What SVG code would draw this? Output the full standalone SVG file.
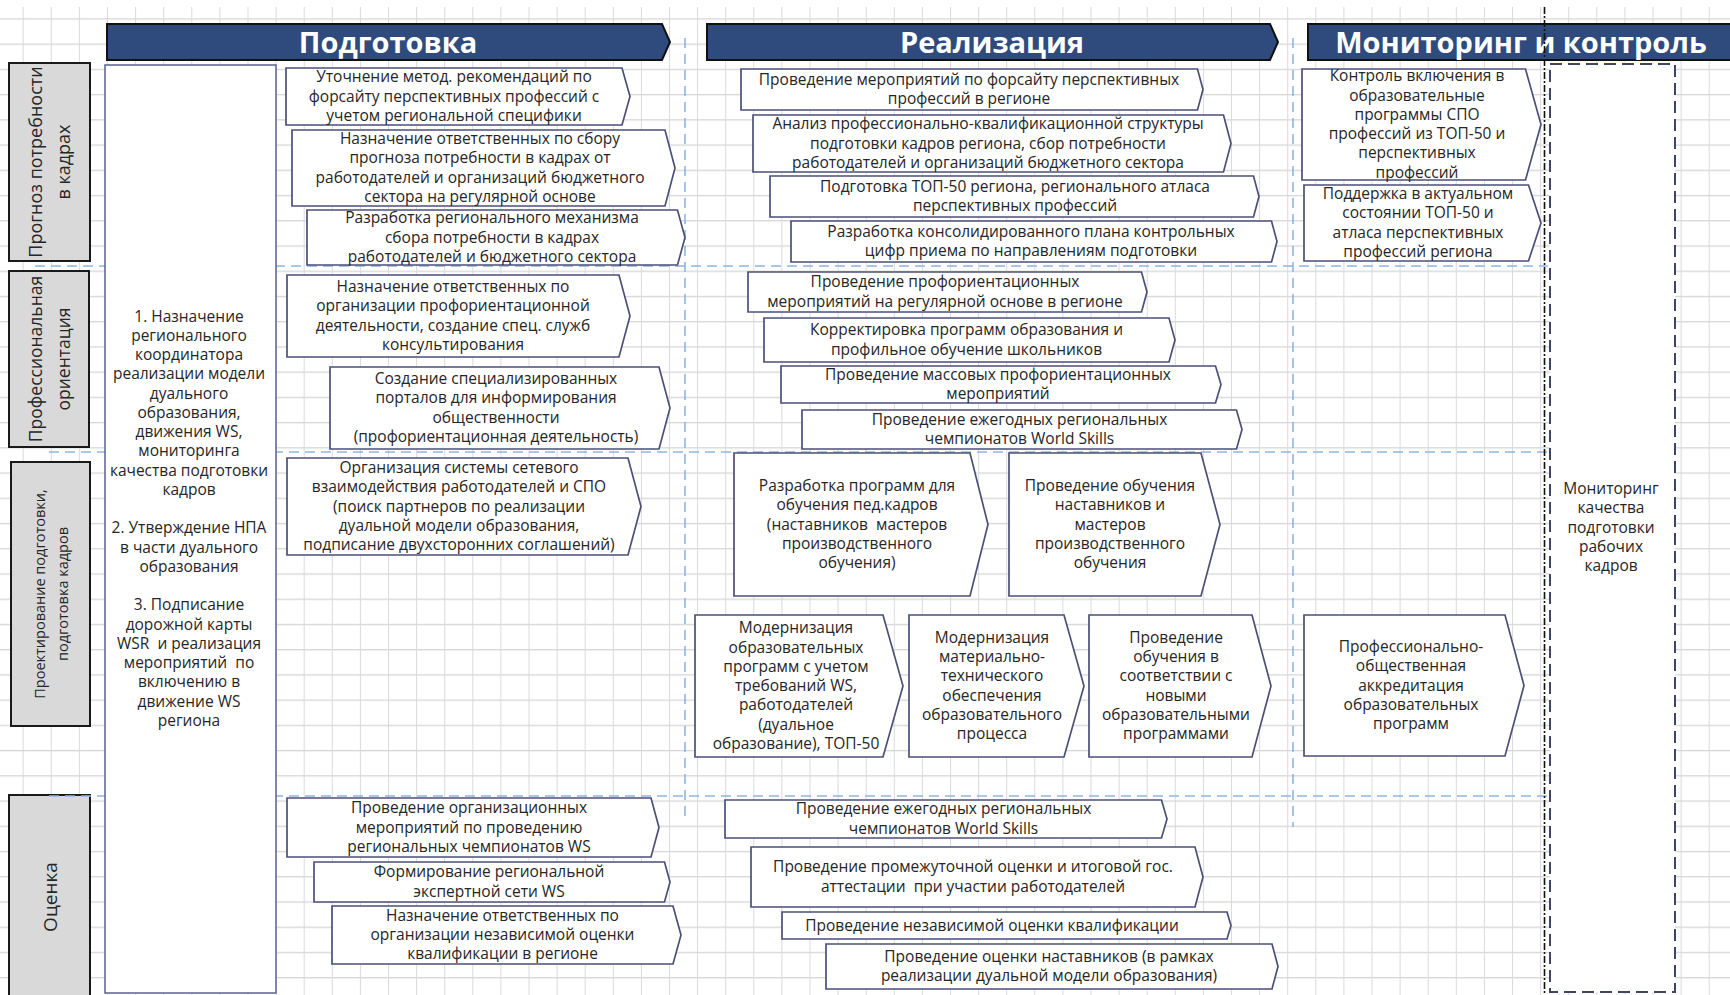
<svg xmlns="http://www.w3.org/2000/svg" width="1730" height="995" viewBox="0 0 1730 995">
<style>
.t{font-family:"Open Sans","Noto Sans","Liberation Sans",sans-serif;font-size:15.5px;fill:#262626;text-anchor:middle}
.pent{fill:#fff;stroke:#4b5078;stroke-width:1.7}
.lab{fill:#d9d9d9;stroke:#1a1a1a;stroke-width:2}
.lt{font-family:"Open Sans","Noto Sans","Liberation Sans",sans-serif;fill:#262626;text-anchor:middle}
.hdr{fill:#2f4b7e;stroke:#111;stroke-width:2}
.ht{font-family:"Open Sans","Noto Sans","Liberation Sans",sans-serif;font-weight:bold;font-size:29px;fill:#fff;text-anchor:middle}
.guide{stroke:#8eb4e3;stroke-width:1.6;stroke-dasharray:10 6;fill:none}
</style>
<defs>
<pattern id="grid" x="22.7" y="18.3" width="28.1" height="25.23" patternUnits="userSpaceOnUse">
<path d="M0 0.6H28.1" stroke="#d6d6d6" stroke-width="1.4" fill="none"/>
<path d="M0.5 0V25.23" stroke="#dadada" stroke-width="1" fill="none"/>
</pattern>
</defs>
<rect width="1730" height="995" fill="#fff"/>
<rect x="0" y="7" width="1730" height="988" fill="url(#grid)"/>

<g id="headers">
<g id="hdr-podgotovka"><path class="hdr" d="M107 24H662L670 42L662 60H107Z"/><text class="ht" x="388" y="52.5">Подготовка</text></g>
<g id="hdr-realizaciya"><path class="hdr" d="M707 24H1270L1278 42L1270 60H707Z"/><text class="ht" x="992" y="52.5">Реализация</text></g>
<g id="hdr-monitoring"><path class="hdr" d="M1308 24H1745V60H1308Z"/><text class="ht" x="1521" y="52.5">Мониторинг и контроль</text></g>
</g>

<g id="row-labels">
<g id="lab-prognoz"><rect class="lab" x="9" y="63" width="81" height="198"/><text class="lt" font-size="18" transform="translate(49.5,162) rotate(-90)"><tspan x="0" y="-7.2">Прогноз потребности</tspan><tspan x="0" y="20.8">в кадрах</tspan></text></g>
<g id="lab-proforient"><rect class="lab" x="9" y="271" width="80" height="176"/><text class="lt" font-size="17.5" transform="translate(49,359) rotate(-90)"><tspan x="0" y="-6.8">Профессиональная</tspan><tspan x="0" y="21.2">ориентация</tspan></text></g>
<g id="lab-proektirovanie"><rect class="lab" x="11" y="462" width="79" height="264"/><text class="lt" font-size="14.5" transform="translate(50.5,594) rotate(-90)"><tspan x="0" y="-5.5">Проектирование подготовки,</tspan><tspan x="0" y="17.5">подготовка кадров</tspan></text></g>
<g id="lab-ocenka"><rect class="lab" x="9" y="795" width="81" height="210"/><text class="lt" font-size="19" transform="translate(49.5,897) rotate(-90)"><tspan x="0" y="7">Оценка</tspan></text></g>
</g>

<g id="connectors">
<path class="guide" d="M35 266H1548"/>
<path class="guide" d="M49 452H1548"/>
<path class="guide" d="M49 796H1548"/>
<path class="guide" d="M685 38V822"/>
<path class="guide" d="M1293 38V827"/>
<path d="M1544.5 7V995" stroke="#111" stroke-width="1.6" stroke-dasharray="7 2 2 2" fill="none"/>
</g>

<g id="left-box">
<rect x="105" y="65" width="171" height="928" fill="#fff" stroke="#5b6190" stroke-width="1.5"/>
<text class="t" x="189" y="321.7" xml:space="preserve"><tspan x="189">1. Назначение</tspan><tspan x="189" dy="19.25">регионального</tspan><tspan x="189" dy="19.25">координатора</tspan><tspan x="189" dy="19.25">реализации модели</tspan><tspan x="189" dy="19.25">дуального</tspan><tspan x="189" dy="19.25">образования,</tspan><tspan x="189" dy="19.25">движения WS,</tspan><tspan x="189" dy="19.25">мониторинга</tspan><tspan x="189" dy="19.25">качества подготовки</tspan><tspan x="189" dy="19.25">кадров</tspan><tspan x="189" dy="38.5">2. Утверждение НПА</tspan><tspan x="189" dy="19.25">в части дуального</tspan><tspan x="189" dy="19.25">образования</tspan><tspan x="189" dy="38.5">3. Подписание</tspan><tspan x="189" dy="19.25">дорожной карты</tspan><tspan x="189" dy="19.25">WSR  и реализация</tspan><tspan x="189" dy="19.25">мероприятий  по</tspan><tspan x="189" dy="19.25">включению в</tspan><tspan x="189" dy="19.25">движение WS</tspan><tspan x="189" dy="19.25">региона</tspan></text>
</g>

<g id="n1"><path class="pent" d="M286 68H622L630 96.5L622 125H286Z"/><text class="t" x="454" y="82.25"><tspan x="454">Уточнение метод. рекомендаций по</tspan><tspan x="454" dy="19.25">форсайту перспективных профессий с</tspan><tspan x="454" dy="19.25">учетом региональной специфики</tspan></text></g>
<g id="n2"><path class="pent" d="M292 130H665L675 168L665 206H292Z"/><text class="t" x="480" y="144.1"><tspan x="480">Назначение ответственных по сбору</tspan><tspan x="480" dy="19.25">прогноза потребности в кадрах от</tspan><tspan x="480" dy="19.25">работодателей и организаций бюджетного</tspan><tspan x="480" dy="19.25">сектора на регулярной основе</tspan></text></g>
<g id="n3"><path class="pent" d="M307 210H677.5L685 237.5L677.5 265H307Z"/><text class="t" x="492" y="223.25"><tspan x="492">Разработка регионального механизма</tspan><tspan x="492" dy="19.25">сбора потребности в кадрах</tspan><tspan x="492" dy="19.25">работодателей и бюджетного сектора</tspan></text></g>
<g id="n4"><path class="pent" d="M287 275H619L630 316L619 357H287Z"/><text class="t" x="453" y="292.1"><tspan x="453">Назначение ответственных по</tspan><tspan x="453" dy="19.25">организации профориентационной</tspan><tspan x="453" dy="19.25">деятельности, создание спец. служб</tspan><tspan x="453" dy="19.25">консультирования</tspan></text></g>
<g id="n5"><path class="pent" d="M330 367H659L670 408L659 449H330Z"/><text class="t" x="496" y="384.1"><tspan x="496">Создание специализированных</tspan><tspan x="496" dy="19.25">порталов для информирования</tspan><tspan x="496" dy="19.25">общественности</tspan><tspan x="496" dy="19.25">(профориентационная деятельность)</tspan></text></g>
<g id="n6"><path class="pent" d="M287 458H628L641 506.5L628 555H287Z"/><text class="t" x="459" y="473"><tspan x="459">Организация системы сетевого</tspan><tspan x="459" dy="19.25">взаимодействия работодателей и СПО</tspan><tspan x="459" dy="19.25">(поиск партнеров по реализации</tspan><tspan x="459" dy="19.25">дуальной модели образования,</tspan><tspan x="459" dy="19.25">подписание двухсторонних соглашений)</tspan></text></g>
<g id="n7"><path class="pent" d="M287 798H651L659 827.5L651 857H287Z"/><text class="t" x="469" y="813.25"><tspan x="469">Проведение организационных</tspan><tspan x="469" dy="19.25">мероприятий по проведению</tspan><tspan x="469" dy="19.25">региональных чемпионатов WS</tspan></text></g>
<g id="n8"><path class="pent" d="M314 862H664.5L670 882L664.5 902H314Z"/><text class="t" x="489" y="877.4"><tspan x="489">Формирование региональной</tspan><tspan x="489" dy="19.25">экспертной сети WS</tspan></text></g>
<g id="n9"><path class="pent" d="M332 906H673L681 935L673 964H332Z"/><text class="t" x="502.5" y="920.75"><tspan x="502.5">Назначение ответственных по</tspan><tspan x="502.5" dy="19.25">организации независимой оценки</tspan><tspan x="502.5" dy="19.25">квалификации в регионе</tspan></text></g>

<g id="n10"><path class="pent" d="M741 69H1197.5L1203 89.5L1197.5 110H741Z"/><text class="t" x="969" y="84.9"><tspan x="969">Проведение мероприятий по форсайту перспективных</tspan><tspan x="969" dy="19.25">профессий в регионе</tspan></text></g>
<g id="n11"><path class="pent" d="M753 115H1223.5L1231 143.5L1223.5 172H753Z"/><text class="t" x="988" y="129.25"><tspan x="988">Анализ профессионально-квалификационной структуры</tspan><tspan x="988" dy="19.25">подготовки кадров региона, сбор потребности</tspan><tspan x="988" dy="19.25">работодателей и организаций бюджетного сектора</tspan></text></g>
<g id="n12"><path class="pent" d="M770 176H1253.5L1259 196.5L1253.5 217H770Z"/><text class="t" x="1015" y="191.9"><tspan x="1015">Подготовка ТОП-50 региона, регионального атласа</tspan><tspan x="1015" dy="19.25">перспективных профессий</tspan></text></g>
<g id="n13"><path class="pent" d="M791 221H1271.5L1277 241.5L1271.5 262H791Z"/><text class="t" x="1031" y="236.9"><tspan x="1031">Разработка консолидированного плана контрольных</tspan><tspan x="1031" dy="19.25">цифр приема по направлениям подготовки</tspan></text></g>
<g id="n14"><path class="pent" d="M748 272H1141.5L1147 292L1141.5 312H748Z"/><text class="t" x="945" y="287.4"><tspan x="945">Проведение профориентационных</tspan><tspan x="945" dy="19.25">мероприятий на регулярной основе в регионе</tspan></text></g>
<g id="n15"><path class="pent" d="M764 318H1169L1175 340L1169 362H764Z"/><text class="t" x="966.5" y="335.4"><tspan x="966.5">Корректировка программ образования и</tspan><tspan x="966.5" dy="19.25">профильное обучение школьников</tspan></text></g>
<g id="n16"><path class="pent" d="M781 366H1215.5L1221 384.5L1215.5 403H781Z"/><text class="t" x="998" y="379.9"><tspan x="998">Проведение массовых профориентационных</tspan><tspan x="998" dy="19.25">мероприятий</tspan></text></g>
<g id="n17"><path class="pent" d="M802 410H1236.5L1242 429.5L1236.5 449H802Z"/><text class="t" x="1019.5" y="424.9"><tspan x="1019.5">Проведение ежегодных региональных</tspan><tspan x="1019.5" dy="19.25">чемпионатов World Skills</tspan></text></g>
<g id="n18"><path class="pent" d="M734 453H970L988 524.5L970 596H734Z"/><text class="t" x="857" y="491" xml:space="preserve"><tspan x="857">Разработка программ для</tspan><tspan x="857" dy="19.25">обучения пед.кадров</tspan><tspan x="857" dy="19.25">(наставников  мастеров</tspan><tspan x="857" dy="19.25">производственного</tspan><tspan x="857" dy="19.25">обучения)</tspan></text></g>
<g id="n19"><path class="pent" d="M1009 453H1201L1220 524.5L1201 596H1009Z"/><text class="t" x="1110" y="491"><tspan x="1110">Проведение обучения</tspan><tspan x="1110" dy="19.25">наставников и</tspan><tspan x="1110" dy="19.25">мастеров</tspan><tspan x="1110" dy="19.25">производственного</tspan><tspan x="1110" dy="19.25">обучения</tspan></text></g>
<g id="n20"><path class="pent" d="M695 615H883L903 686L883 757H695Z"/><text class="t" x="796" y="633.25"><tspan x="796">Модернизация</tspan><tspan x="796" dy="19.25">образовательных</tspan><tspan x="796" dy="19.25">программ с учетом</tspan><tspan x="796" dy="19.25">требований WS,</tspan><tspan x="796" dy="19.25">работодателей</tspan><tspan x="796" dy="19.25">(дуальное</tspan><tspan x="796" dy="19.25">образование), ТОП-50</tspan></text></g>
<g id="n21"><path class="pent" d="M909 615H1064L1084 686L1064 757H909Z"/><text class="t" x="992" y="642.9"><tspan x="992">Модернизация</tspan><tspan x="992" dy="19.25">материально-</tspan><tspan x="992" dy="19.25">технического</tspan><tspan x="992" dy="19.25">обеспечения</tspan><tspan x="992" dy="19.25">образовательного</tspan><tspan x="992" dy="19.25">процесса</tspan></text></g>
<g id="n22"><path class="pent" d="M1089 615H1252L1271 686L1252 757H1089Z"/><text class="t" x="1176" y="642.9"><tspan x="1176">Проведение</tspan><tspan x="1176" dy="19.25">обучения в</tspan><tspan x="1176" dy="19.25">соответствии с</tspan><tspan x="1176" dy="19.25">новыми</tspan><tspan x="1176" dy="19.25">образовательными</tspan><tspan x="1176" dy="19.25">программами</tspan></text></g>
<g id="n23"><path class="pent" d="M725 800H1161.5L1167 819L1161.5 838H725Z"/><text class="t" x="943.5" y="814.4"><tspan x="943.5">Проведение ежегодных региональных</tspan><tspan x="943.5" dy="19.25">чемпионатов World Skills</tspan></text></g>
<g id="n24"><path class="pent" d="M751 847H1195L1203 877L1195 907H751Z"/><text class="t" x="973" y="872.4" xml:space="preserve"><tspan x="973">Проведение промежуточной оценки и итоговой гос.</tspan><tspan x="973" dy="19.25">аттестации  при участии работодателей</tspan></text></g>
<g id="n25"><path class="pent" d="M782 912H1227L1231 925.5L1227 939H782Z"/><text class="t" x="992" y="930.5">Проведение независимой оценки квалификации</text></g>
<g id="n26"><path class="pent" d="M826 944H1272L1278 966.5L1272 989H826Z"/><text class="t" x="1049" y="961.9"><tspan x="1049">Проведение оценки наставников (в рамках</tspan><tspan x="1049" dy="19.25">реализации дуальной модели образования)</tspan></text></g>

<g id="n27"><path class="pent" d="M1302 69H1525.5L1541 124.5L1525.5 180H1302Z"/><text class="t" x="1417" y="81.4"><tspan x="1417">Контроль включения в</tspan><tspan x="1417" dy="19.25">образовательные</tspan><tspan x="1417" dy="19.25">программы СПО</tspan><tspan x="1417" dy="19.25">профессий из ТОП-50 и</tspan><tspan x="1417" dy="19.25">перспективных</tspan><tspan x="1417" dy="19.25">профессий</tspan></text></g>
<g id="n28"><path class="pent" d="M1304 185H1528.5L1541 223L1528.5 261H1304Z"/><text class="t" x="1418" y="199.1"><tspan x="1418">Поддержка в актуальном</tspan><tspan x="1418" dy="19.25">состоянии ТОП-50 и</tspan><tspan x="1418" dy="19.25">атласа перспективных</tspan><tspan x="1418" dy="19.25">профессий региона</tspan></text></g>
<g id="n29"><path class="pent" d="M1304 615H1505L1524 685.5L1505 756H1304Z"/><text class="t" x="1411" y="652"><tspan x="1411">Профессионально-</tspan><tspan x="1411" dy="19.25">общественная</tspan><tspan x="1411" dy="19.25">аккредитация</tspan><tspan x="1411" dy="19.25">образовательных</tspan><tspan x="1411" dy="19.25">программ</tspan></text></g>

<g id="monitoring-box"><rect x="1550" y="64" width="125" height="928" fill="#fff" stroke="#3e4565" stroke-width="2" stroke-dasharray="12 6"/><text class="t" x="1611" y="494" font-size="16"><tspan x="1611">Мониторинг</tspan><tspan x="1611" dy="19.25">качества</tspan><tspan x="1611" dy="19.25">подготовки</tspan><tspan x="1611" dy="19.25">рабочих</tspan><tspan x="1611" dy="19.25">кадров</tspan></text></g>
</svg>
